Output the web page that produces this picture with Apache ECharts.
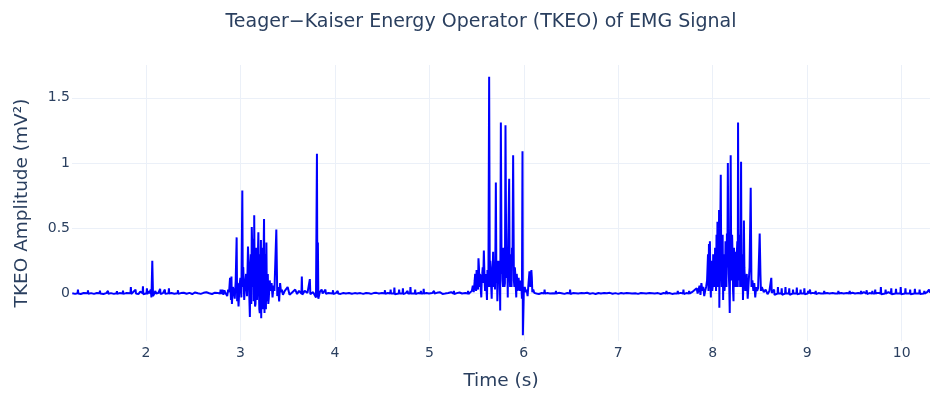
<!DOCTYPE html>
<html>
<head>
<meta charset="utf-8">
<script src="https://cdn.jsdelivr.net/npm/echarts@6/dist/echarts.min.js"></script>
<style>
  html, body { margin: 0; padding: 0; background: #fff; }
  #chart { width: 930px; height: 394px; }
</style>
</head>
<body>
<div id="chart"></div>
<script>
// tick positions shown on the axes
const xTicks = [2, 3, 4, 5, 6, 7, 8, 9, 10];
const yTicks = [0, 0.5, 1, 1.5];

// TKEO samples as [time (s), amplitude (mV²)]
const leadQuiet = [
  [1.22, 0.002], [1.25, -0.003], [1.276, 0.002], [1.28, 0.03], [1.284, 0.0], [1.31, -0.004],
  [1.34, 0.004], [1.383, 0.002], [1.386, 0.025], [1.39, -0.002], [1.42, 0.003], [1.45, -0.003],
  [1.48, 0.004], [1.509, 0.002], [1.513, 0.022], [1.517, 0.0], [1.55, -0.004], [1.58, 0.003],
  [1.594, 0.0], [1.598, 0.02], [1.602, -0.002], [1.63, 0.003], [1.66, -0.003], [1.689, 0.002],
  [1.693, 0.018], [1.697, -0.002], [1.72, 0.003], [1.753, 0.0], [1.757, 0.022], [1.761, -0.003],
  [1.79, 0.003], [1.836, 0.002], [1.84, 0.05], [1.844, -0.004], [1.865, 0.004], [1.89, 0.03],
  [1.894, 0.0], [1.92, -0.005], [1.94, 0.015], [1.944, 0.0], [1.964, 0.002], [1.968, 0.055],
  [1.972, -0.006], [1.99, 0.003], [2.006, 0.002], [2.01, 0.04], [2.014, -0.005], [2.03, 0.02],
  [2.034, 0.0], [2.05, 0.03], [2.058, -0.03], [2.067, 0.25], [2.075, -0.02], [2.09, 0.002],
  [2.10, 0.02], [2.105, 0.0], [2.13, 0.003], [2.146, 0.002], [2.15, 0.035], [2.154, -0.004],
  [2.18, 0.003], [2.196, 0.0], [2.2, 0.03], [2.204, -0.003], [2.239, 0.002], [2.243, 0.04],
  [2.247, 0.0], [2.27, 0.004], [2.30, -0.002], [2.335, 0.002], [2.339, 0.025], [2.343, -0.003],
  [2.37, 0.003], [2.40, 0.006], [2.43, -0.002], [2.46, 0.005], [2.49, -0.004], [2.52, 0.008],
  [2.55, 0.002], [2.58, -0.003], [2.61, 0.005], [2.64, 0.01], [2.67, 0.002], [2.70, -0.004],
  [2.73, 0.006], [2.76, 0.003], [2.786, 0.0], [2.79, 0.03], [2.80, -0.005], [2.81, 0.03],
  [2.82, -0.01], [2.83, 0.025], [2.84, 0.005]
];

const burst1 = [
  [2.85, 0.02], [2.86, -0.02], [2.87, 0.03], [2.88, 0.01], [2.89, 0.12], [2.90, -0.05],
  [2.905, 0.13], [2.91, -0.08], [2.92, 0.05], [2.93, 0.02], [2.94, -0.04], [2.95, 0.10],
  [2.96, 0.43], [2.965, -0.06], [2.97, 0.08], [2.98, -0.10], [2.99, 0.06], [3.00, 0.12],
  [3.01, -0.03], [3.02, 0.79], [3.025, 0.05], [3.03, 0.20], [3.04, -0.05], [3.05, 0.07],
  [3.06, 0.15], [3.07, -0.02], [3.08, 0.36], [3.09, 0.10], [3.10, -0.18], [3.11, 0.30],
  [3.12, 0.51], [3.13, 0.05], [3.135, 0.42], [3.14, -0.06], [3.146, 0.60], [3.15, 0.20],
  [3.16, -0.08], [3.17, 0.30], [3.18, 0.05], [3.19, 0.47], [3.20, -0.12], [3.21, 0.30],
  [3.217, 0.41], [3.22, -0.19], [3.23, 0.25], [3.24, -0.10], [3.25, 0.57], [3.255, -0.15],
  [3.26, 0.30], [3.27, -0.12], [3.275, 0.39], [3.28, -0.06], [3.29, 0.15], [3.30, -0.04],
  [3.31, 0.10], [3.32, 0.02], [3.33, 0.08], [3.34, -0.03], [3.35, 0.06], [3.36, 0.02],
  [3.38, 0.49], [3.39, -0.02], [3.40, 0.05], [3.41, -0.06], [3.42, 0.08], [3.43, 0.01],
  [3.44, 0.03], [3.45, -0.01]
];

// in-between samples that make the busy part of each burst look solid
const burst1Fill = [
  [3.085, 0.25], [3.095, -0.05], [3.105, 0.20], [3.115, -0.08], [3.125, 0.35], [3.145, 0.10],
  [3.155, -0.10], [3.165, 0.35], [3.175, -0.05], [3.185, 0.30], [3.195, 0.10], [3.205, -0.15],
  [3.215, 0.20], [3.225, 0.35], [3.235, -0.12], [3.245, 0.30], [3.265, 0.20], [3.285, 0.10],
  [3.295, -0.08]
];

const midQuiet1 = [
  [3.47, 0.02], [3.50, 0.05], [3.52, -0.01], [3.55, 0.01], [3.58, 0.03], [3.60, -0.004],
  [3.62, 0.02], [3.646, 0.0], [3.65, 0.13], [3.655, -0.01], [3.68, 0.02], [3.71, 0.005],
  [3.731, 0.0], [3.735, 0.11], [3.74, -0.005], [3.77, 0.01], [3.79, 0.02], [3.80, -0.03],
  [3.81, 1.07], [3.815, -0.03], [3.82, 0.39], [3.825, -0.04], [3.84, 0.01], [3.86, 0.03],
  [3.87, 0.0], [3.90, 0.03], [3.905, -0.003], [3.93, 0.004], [3.976, 0.0], [3.98, 0.025],
  [3.984, -0.004], [4.01, 0.003], [4.026, 0.0], [4.03, 0.02], [4.034, 0.0], [4.06, -0.003],
  [4.09, 0.004], [4.116, 0.0], [4.12, 0.015], [4.124, -0.003], [4.15, 0.004], [4.18, -0.002],
  [4.21, 0.003], [4.236, 0.0], [4.24, 0.012], [4.244, -0.003], [4.27, 0.003], [4.30, -0.003],
  [4.33, 0.004], [4.36, 0.002], [4.376, 0.0], [4.38, 0.015], [4.384, -0.003], [4.41, 0.003],
  [4.44, 0.005], [4.466, 0.0], [4.47, 0.015], [4.474, 0.0], [4.50, 0.003], [4.526, 0.0],
  [4.53, 0.025], [4.534, -0.003], [4.56, 0.004], [4.586, 0.0], [4.59, 0.03], [4.594, 0.0],
  [4.61, 0.008], [4.626, 0.0], [4.63, 0.045], [4.634, -0.005], [4.65, 0.004], [4.676, 0.0],
  [4.68, 0.03], [4.684, 0.0], [4.70, 0.01], [4.716, 0.0], [4.72, 0.04], [4.724, -0.005],
  [4.75, 0.003], [4.766, 0.0], [4.77, 0.02], [4.774, 0.0], [4.796, 0.0], [4.80, 0.05],
  [4.804, 0.0], [4.82, 0.005], [4.846, 0.0], [4.85, 0.03], [4.854, -0.004], [4.88, 0.003],
  [4.906, 0.0], [4.91, 0.02], [4.914, 0.0], [4.936, 0.0], [4.94, 0.035], [4.944, 0.0],
  [4.97, 0.004], [4.996, 0.0], [5.00, 0.015], [5.004, -0.003], [5.03, 0.003], [5.046, 0.0],
  [5.05, 0.02], [5.054, 0.0], [5.08, 0.005], [5.11, 0.01], [5.14, -0.003], [5.166, 0.0],
  [5.17, 0.015], [5.174, 0.0], [5.20, 0.004], [5.23, 0.01], [5.256, 0.0], [5.26, 0.02],
  [5.264, -0.004], [5.29, 0.003], [5.32, 0.008], [5.346, 0.0], [5.35, 0.015], [5.354, 0.0],
  [5.38, 0.003], [5.406, 0.0], [5.41, 0.02], [5.414, -0.005], [5.43, 0.003]
];

const burst2 = [
  [5.45, 0.02], [5.46, 0.06], [5.47, 0.01], [5.48, 0.10], [5.49, 0.04], [5.50, 0.18],
  [5.51, 0.08], [5.52, 0.27], [5.525, 0.20], [5.53, 0.05], [5.54, 0.12], [5.55, -0.03],
  [5.56, 0.15], [5.57, 0.08], [5.577, 0.33], [5.585, 0.10], [5.59, 0.02], [5.60, 0.12],
  [5.61, -0.05], [5.62, 0.08], [5.633, 1.66], [5.64, 0.05], [5.65, 0.20], [5.66, -0.04],
  [5.67, 0.15], [5.675, 0.32], [5.68, 0.05], [5.69, 0.12], [5.70, 0.40], [5.704, 0.85],
  [5.71, 0.08], [5.72, -0.06], [5.73, 0.25], [5.74, 0.10], [5.75, -0.13], [5.757, 1.31],
  [5.765, 0.15], [5.77, 0.30], [5.78, 0.05], [5.79, 0.20], [5.80, 0.08], [5.806, 1.29],
  [5.815, 0.12], [5.82, 0.20], [5.83, -0.03], [5.835, 0.40], [5.845, 0.88], [5.85, 0.15],
  [5.86, 0.30], [5.87, 0.05], [5.88, 0.22], [5.887, 1.06], [5.895, 0.10], [5.90, 0.05],
  [5.91, 0.15], [5.92, -0.03], [5.93, 0.10], [5.94, 0.03], [5.95, 0.06], [5.96, 0.02],
  [5.97, 0.08], [5.98, -0.04], [5.986, 1.09], [5.99, -0.32], [6.00, 0.02], [6.01, 0.05],
  [6.02, 0.01], [6.03, 0.03], [6.04, -0.02], [6.05, 0.08], [6.06, 0.17], [6.07, 0.05],
  [6.08, 0.18], [6.085, 0.12], [6.09, 0.01], [6.10, 0.03], [6.11, 0.005]
];

const burst2Fill = [
  [5.485, 0.15], [5.495, 0.02], [5.505, 0.14], [5.515, 0.03], [5.535, 0.15], [5.545, 0.02],
  [5.555, 0.12], [5.565, 0.20], [5.595, 0.15], [5.605, 0.03], [5.615, 0.18], [5.625, 0.05],
  [5.645, 0.25], [5.655, 0.05], [5.665, 0.18], [5.685, 0.22], [5.695, 0.03], [5.715, 0.25],
  [5.725, 0.05], [5.735, 0.18], [5.745, 0.20], [5.775, 0.10], [5.785, 0.35], [5.795, 0.05],
  [5.825, 0.30], [5.855, 0.05], [5.865, 0.20], [5.875, 0.35], [5.905, 0.20], [5.915, 0.05],
  [5.925, 0.15], [5.935, 0.02], [5.945, 0.12], [5.955, 0.04], [5.965, 0.10], [5.975, 0.05]
];

const midQuiet2 = [
  [6.126, 0.0], [6.13, 0.02], [6.134, 0.0], [6.16, -0.004], [6.19, 0.004], [6.216, 0.0],
  [6.22, 0.03], [6.224, 0.0], [6.25, 0.003], [6.276, 0.0], [6.28, 0.015], [6.284, -0.003],
  [6.31, 0.002], [6.336, 0.0], [6.34, 0.02], [6.344, 0.0], [6.37, 0.005], [6.40, 0.002],
  [6.43, -0.003], [6.46, 0.004], [6.486, 0.0], [6.49, 0.03], [6.494, -0.004], [6.52, 0.003],
  [6.55, 0.002], [6.576, 0.0], [6.58, 0.012], [6.584, -0.003], [6.61, 0.003], [6.64, 0.002],
  [6.67, 0.006], [6.70, -0.002], [6.73, 0.003], [6.76, -0.004], [6.79, 0.004], [6.816, 0.0],
  [6.82, 0.012], [6.824, -0.003], [6.85, 0.003], [6.88, 0.002], [6.91, 0.005], [6.94, -0.002],
  [6.97, 0.003], [7.00, -0.003], [7.03, 0.004], [7.056, 0.0], [7.06, 0.012], [7.064, -0.003],
  [7.09, 0.003], [7.12, 0.002], [7.146, 0.0], [7.15, 0.015], [7.154, 0.0], [7.18, 0.002],
  [7.21, -0.003], [7.24, 0.004], [7.27, 0.002], [7.296, 0.0], [7.30, 0.012], [7.304, -0.003],
  [7.33, 0.003], [7.36, 0.002], [7.386, 0.0], [7.39, 0.015], [7.394, 0.0], [7.42, 0.003],
  [7.45, -0.004], [7.48, 0.004], [7.506, 0.0], [7.51, 0.02], [7.514, 0.0], [7.54, 0.004],
  [7.57, -0.003], [7.596, 0.0], [7.60, 0.012], [7.604, 0.0], [7.626, 0.0], [7.63, 0.02],
  [7.634, 0.0], [7.66, 0.005], [7.686, 0.0], [7.69, 0.03], [7.694, -0.004], [7.72, 0.003],
  [7.746, 0.0], [7.75, 0.02], [7.754, 0.0], [7.78, 0.01], [7.80, 0.0], [7.83, 0.04],
  [7.84, 0.0]
];

const burst3 = [
  [7.85, 0.005], [7.86, 0.06], [7.87, -0.01], [7.88, 0.08], [7.89, 0.02], [7.90, 0.05],
  [7.91, -0.02], [7.92, 0.02], [7.93, 0.05], [7.94, 0.10], [7.95, 0.30], [7.96, 0.38],
  [7.965, 0.05], [7.97, 0.40], [7.975, 0.08], [7.98, -0.03], [7.99, 0.12], [8.00, 0.06],
  [8.01, 0.20], [8.02, 0.10], [8.03, 0.30], [8.04, 0.45], [8.045, 0.15], [8.05, 0.55],
  [8.06, 0.30], [8.067, 0.64], [8.07, -0.11], [8.08, 0.50], [8.085, 0.91], [8.09, 0.20],
  [8.10, 0.40], [8.11, -0.05], [8.12, 0.30], [8.13, 0.10], [8.14, 0.25], [8.15, 0.46],
  [8.155, 0.20], [8.16, 1.00], [8.17, 0.15], [8.18, -0.15], [8.185, 0.40], [8.19, 1.06],
  [8.20, 0.10], [8.21, 0.30], [8.22, -0.06], [8.23, 0.15], [8.24, 0.32], [8.25, 0.05],
  [8.26, 0.40], [8.268, 1.31], [8.275, 0.10], [8.28, 0.30], [8.29, 0.05], [8.30, 1.01],
  [8.31, 0.20], [8.32, -0.05], [8.33, 0.56], [8.34, 0.10], [8.35, 0.05], [8.36, 0.15],
  [8.37, -0.04], [8.38, 0.08], [8.39, 0.20], [8.402, 0.81], [8.41, 0.05], [8.42, 0.10],
  [8.43, 0.02], [8.44, 0.08], [8.45, -0.03], [8.46, 0.05], [8.47, 0.02], [8.48, 0.04],
  [8.497, 0.46], [8.505, 0.15], [8.51, 0.02], [8.52, 0.05], [8.54, 0.01], [8.56, 0.03],
  [8.58, -0.005], [8.60, 0.02], [8.62, 0.12], [8.625, 0.005]
];

const burst3Fill = [
  [7.955, 0.02], [7.985, 0.25], [7.995, 0.02], [8.005, 0.30], [8.015, 0.05], [8.025, 0.35],
  [8.035, 0.02], [8.055, 0.05], [8.065, 0.35], [8.075, 0.40], [8.095, 0.05], [8.105, 0.45],
  [8.115, 0.30], [8.125, 0.02], [8.135, 0.40], [8.145, 0.05], [8.165, 0.35], [8.175, 0.05],
  [8.195, 0.30], [8.205, 0.45], [8.215, 0.02], [8.225, 0.35], [8.235, 0.05], [8.245, 0.20],
  [8.255, 0.30], [8.265, 0.05], [8.285, 0.45], [8.295, 0.20], [8.305, 0.05], [8.315, 0.30],
  [8.325, 0.10], [8.335, 0.20], [8.345, 0.02], [8.355, 0.10]
];

const tailQuiet = [
  [8.646, 0.0], [8.65, 0.03], [8.654, -0.01], [8.67, 0.003], [8.686, 0.0], [8.69, 0.05],
  [8.694, 0.0], [8.71, 0.01], [8.726, 0.0], [8.73, 0.04], [8.734, -0.01], [8.75, 0.003],
  [8.766, 0.0], [8.77, 0.05], [8.774, 0.0], [8.79, 0.005], [8.806, 0.0], [8.81, 0.04],
  [8.814, -0.01], [8.83, 0.003], [8.846, 0.0], [8.85, 0.03], [8.854, 0.0], [8.87, 0.01],
  [8.886, 0.0], [8.89, 0.045], [8.894, -0.005], [8.91, 0.003], [8.926, 0.0], [8.93, 0.03],
  [8.934, 0.0], [8.95, 0.01], [8.966, 0.0], [8.97, 0.04], [8.974, -0.005], [8.99, 0.003],
  [9.006, 0.0], [9.01, 0.02], [9.014, 0.0], [9.03, 0.03], [9.034, 0.0], [9.06, 0.005],
  [9.086, 0.0], [9.09, 0.02], [9.094, -0.004], [9.12, 0.003], [9.146, 0.0], [9.15, 0.015],
  [9.154, 0.0], [9.176, 0.0], [9.18, 0.02], [9.184, 0.0], [9.21, 0.003], [9.236, 0.0],
  [9.24, 0.015], [9.244, -0.004], [9.27, 0.003], [9.296, 0.0], [9.30, 0.012], [9.304, 0.0],
  [9.326, 0.0], [9.33, 0.02], [9.334, 0.0], [9.36, 0.004], [9.386, 0.0], [9.39, 0.015],
  [9.394, -0.003], [9.42, 0.003], [9.446, 0.0], [9.45, 0.02], [9.454, 0.0], [9.48, 0.006],
  [9.506, 0.0], [9.51, 0.015], [9.514, -0.004], [9.54, 0.003], [9.566, 0.0], [9.57, 0.02],
  [9.574, 0.0], [9.60, 0.01], [9.626, 0.0], [9.63, 0.025], [9.634, -0.004], [9.66, 0.003],
  [9.686, 0.0], [9.69, 0.02], [9.694, 0.0], [9.716, 0.0], [9.72, 0.03], [9.724, 0.0],
  [9.75, 0.005], [9.776, 0.0], [9.78, 0.05], [9.784, -0.005], [9.80, 0.003], [9.826, 0.0],
  [9.83, 0.03], [9.834, 0.0], [9.86, 0.01], [9.886, 0.0], [9.89, 0.04], [9.894, -0.005],
  [9.91, 0.003], [9.936, 0.0], [9.94, 0.035], [9.944, 0.0], [9.96, 0.01], [9.986, 0.0],
  [9.99, 0.05], [9.994, -0.005], [10.01, 0.003], [10.036, 0.0], [10.04, 0.04], [10.044, 0.0],
  [10.06, 0.01], [10.086, 0.0], [10.09, 0.03], [10.094, -0.005], [10.11, 0.003], [10.136, 0.0],
  [10.14, 0.035], [10.144, 0.0], [10.16, 0.01], [10.186, 0.0], [10.19, 0.03], [10.194, -0.004],
  [10.21, 0.003], [10.236, 0.0], [10.24, 0.02], [10.244, 0.0], [10.27, 0.01], [10.286, 0.0],
  [10.29, 0.03], [10.30, 0.005]
];

const tkeo = [].concat(
  leadQuiet, burst1, burst1Fill, midQuiet1, burst2, burst2Fill,
  midQuiet2, burst3, burst3Fill, tailQuiet
).sort((a, b) => a[0] - b[0]);

const font = '"DejaVu Sans", Verdana, sans-serif';
const ink = '#2a3f5f';
const gridColor = '#EBF0F8';

const chart = echarts.init(document.getElementById('chart'), null, { renderer: 'canvas' });
chart.setOption({
  animation: false,
  backgroundColor: '#fff',
  title: {
    text: 'Teager\u2212Kaiser Energy Operator (TKEO) of EMG Signal',
    left: 476,
    top: 8,
    textAlign: 'center',
    textStyle: { fontFamily: font, fontSize: 19, fontWeight: 'normal', color: ink }
  },
  grid: { left: 72, right: 0, top: 65, bottom: 53, containLabel: false, outerBoundsMode: 'none' },
  xAxis: {
    type: 'value',
    min: 1.217,
    max: 10.3,
    name: 'Time (s)',
    nameLocation: 'middle',
    nameGap: 31,
    nameTextStyle: { fontFamily: font, fontSize: 18.5, color: ink },
    axisLine: { show: false },
    axisTick: { show: false, customValues: xTicks },
    axisLabel: { fontFamily: font, fontSize: 14, color: ink, margin: 5, customValues: xTicks },
    splitLine: { show: true, customValues: xTicks, lineStyle: { color: gridColor, width: 1 } }
  },
  yAxis: {
    type: 'value',
    min: -0.364,
    max: 1.751,
    name: 'TKEO Amplitude (mV\u00b2)',
    nameLocation: 'middle',
    nameGap: 40,
    nameTextStyle: { fontFamily: font, fontSize: 18.5, color: ink },
    axisLine: { show: false },
    axisTick: { show: false, customValues: yTicks },
    axisLabel: { fontFamily: font, fontSize: 14, color: ink, margin: 2, customValues: yTicks },
    splitLine: { show: true, customValues: yTicks, lineStyle: { color: gridColor, width: 1 } }
  },
  series: [{
    type: 'line',
    data: tkeo,
    symbol: 'none',
    smooth: false,
    lineStyle: { color: '#0000ff', width: 2 },
    z: 3
  }]
});
</script>
</body>
</html>
